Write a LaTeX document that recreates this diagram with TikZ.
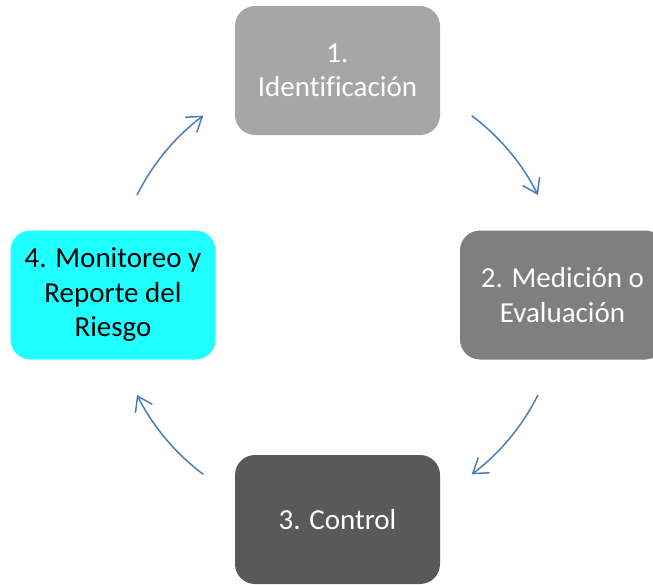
\documentclass[tikz,border=0pt]{standalone}
\usepackage{fontspec}
\setmainfont{Carlito}[Ligatures=NoCommon]
\usetikzlibrary{arrows.meta,calc}
\definecolor{gA}{HTML}{A6A6A6}
\definecolor{gB}{HTML}{7F7F7F}
\definecolor{gC}{HTML}{595959}
\definecolor{cy}{HTML}{20FFFF}
\definecolor{arrblue}{HTML}{4A7EBB}
\tikzset{
  box/.style={rounded corners=20pt, minimum width=205pt, minimum height=129pt,
    inner sep=0pt, align=center, font=\fontsize{29}{34.5}\selectfont},
  arr/.style={draw=arrblue, line width=1.5pt, -{Straight Barb[length=14pt,width=19pt]}}
}
\begin{document}
\begin{tikzpicture}[x=1pt,y=1pt]
\useasboundingbox (0,0) rectangle (653,-584);
\clip (0,0) rectangle (653,-584);
\node[box, fill=gA, text=white] (b1) at (337.5,-70.5) {1.\\Identificación};
\node[box, fill=gB, text=white] (b2) at (562.5,-295) {2. Medición o\\Evaluación};
\node[box, fill=gC, text=white] (b3) at (337.5,-519.5) {3. Control};
\node[box, fill=cy, text=black] (b4) at (113,-295) {4. Monitoreo y\\Reporte del\\Riesgo};
\coordinate (c) at (337.5,-295);
\coordinate (s1) at ($(c)+(53.2:224)$);
\coordinate (s2) at ($(c)+(-26.5:224)$);
\coordinate (s3) at ($(c)+(233.2:224)$);
\coordinate (s4) at ($(c)+(153.5:224)$);
\draw[arr] (s1) arc[start angle=53.2, end angle=26.5, radius=224];
\draw[arr] (s2) arc[start angle=-26.5, end angle=-53.2, radius=224];
\draw[arr] (s3) arc[start angle=233.2, end angle=206.5, radius=224];
\draw[arr] (s4) arc[start angle=153.5, end angle=126.8, radius=224];
\end{tikzpicture}
\end{document}
